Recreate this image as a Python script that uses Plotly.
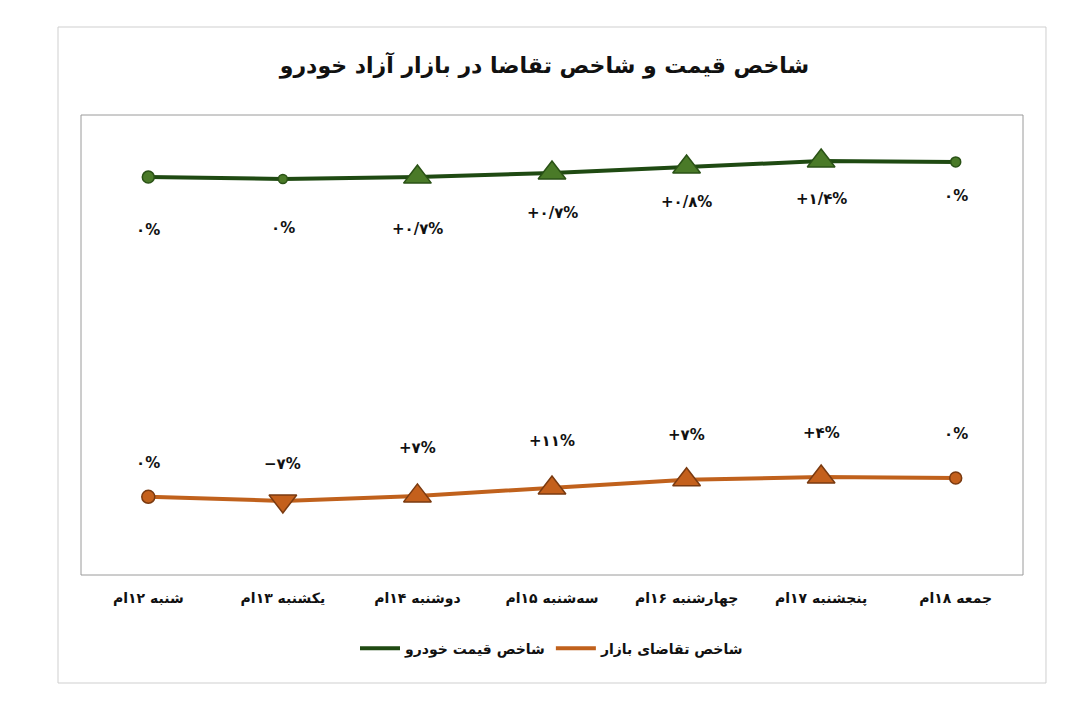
import plotly.graph_objects as go

categories = ["شنبه ۱۲ام", "یکشنبه ۱۳ام", "دوشنبه ۱۴ام", "سه‌شنبه ۱۵ام",
              "چهارشنبه ۱۶ام", "پنجشنبه ۱۷ام", "جمعه ۱۸ام"]

price_index = [86.5, 86.1, 86.5, 87.4, 88.7, 90.0, 89.8]
price_labels = ["۰%", "۰%", "+۰/۷%", "+۰/۷%", "+۰/۸%", "+۱/۴%", "۰%"]
price_symbols = ["circle", "circle", "triangle-up", "triangle-up", "triangle-up", "triangle-up", "circle"]
price_sizes = [12, 9, 24, 24, 24, 24, 10]
price_label_shift = [-53, -49, -52, -40, -35, -38, -34]

demand_index = [17.0, 16.1, 17.2, 18.9, 20.7, 21.3, 21.1]
demand_labels = ["۰%", "−۷%", "+۷%", "+۱۱%", "+۷%", "+۴%", "۰%"]
demand_symbols = ["circle", "triangle-down", "triangle-up", "triangle-up", "triangle-up", "triangle-up", "circle"]
demand_sizes = [13, 24, 24, 24, 24, 24, 12]
demand_label_shift = [34, 37, 48, 47, 45, 44, 44]

series_names = ["شاخص قیمت خودرو", "شاخص تقاضای بازار"]

FONT = "DejaVu Sans"
GREEN_LINE = "#1f4a12"
GREEN_MARK = "#4a7a28"
ORANGE_LINE = "#c0611c"
ORANGE_MARK = "#c4601c"

fig = go.Figure()

fig.add_trace(go.Scatter(
    x=categories, y=price_index, name=series_names[0], mode="lines+markers",
    line=dict(color=GREEN_LINE, width=4),
    marker=dict(symbol=price_symbols, size=price_sizes, color=GREEN_MARK, opacity=1,
                line=dict(color="#2a5216", width=1.5)),
    hoverinfo="skip", showlegend=False,
))
fig.add_trace(go.Scatter(
    x=categories, y=demand_index, name=series_names[1], mode="lines+markers",
    line=dict(color=ORANGE_LINE, width=4),
    marker=dict(symbol=demand_symbols, size=demand_sizes, color=ORANGE_MARK, opacity=1,
                line=dict(color="#7a3a10", width=1.5)),
    hoverinfo="skip", showlegend=False,
))
# legend entries (line only, as in the reference)
fig.add_trace(go.Scatter(x=[None], y=[None], name=series_names[0], mode="lines",
                         line=dict(color=GREEN_LINE, width=4), showlegend=True))
fig.add_trace(go.Scatter(x=[None], y=[None], name=series_names[1], mode="lines",
                         line=dict(color=ORANGE_LINE, width=4), showlegend=True))

annotations = []
for c, v, t, s in zip(categories, price_index, price_labels, price_label_shift):
    annotations.append(dict(x=c, y=v, text=t, showarrow=False, yshift=s,
                            font=dict(family=FONT, size=15, color="#111111", weight="bold")))
for c, v, t, s in zip(categories, demand_index, demand_labels, demand_label_shift):
    annotations.append(dict(x=c, y=v, text=t, showarrow=False, yshift=s,
                            font=dict(family=FONT, size=15, color="#111111", weight="bold")))

fig.update_layout(
    width=1089, height=713,
    paper_bgcolor="white", plot_bgcolor="white",
    margin=dict(l=81, r=66, t=115, b=138),
    title=dict(text="شاخص قیمت و شاخص تقاضا در بازار آزاد خودرو",
               x=0.5, xanchor="center", xref="container",
               y=1 - 65 / 713, yanchor="middle", yref="container",
               font=dict(family=FONT, size=22, color="#111111", weight="bold")),
    showlegend=True,
    legend=dict(orientation="h", x=0.5, xanchor="center", y=-0.16, yanchor="middle",
                font=dict(family=FONT, size=14, color="#111111", weight="bold"),
                itemwidth=40, bgcolor="rgba(0,0,0,0)"),
    annotations=annotations,
    shapes=[
        dict(type="rect", xref="paper", yref="paper", x0=-0.0244, x1=1.0244,
             y0=-0.2348, y1=1.1913, line=dict(color="#cfcfcf", width=1), layer="below"),
        dict(type="rect", xref="paper", yref="paper", x0=0, x1=1, y0=0, y1=1,
             line=dict(color="#9a9a9a", width=1), layer="below"),
    ],
)

fig.update_xaxes(type="category", range=[-0.5, 6.5], showgrid=False, zeroline=False,
                 showline=False, ticks="outside", ticklen=10, tickcolor="rgba(0,0,0,0)",
                 tickfont=dict(family=FONT, size=14, color="#111111", weight="bold"))
fig.update_yaxes(range=[0, 100], showgrid=False, zeroline=False, showline=False,
                 showticklabels=False, ticks="")

fig.write_html("out.html")
